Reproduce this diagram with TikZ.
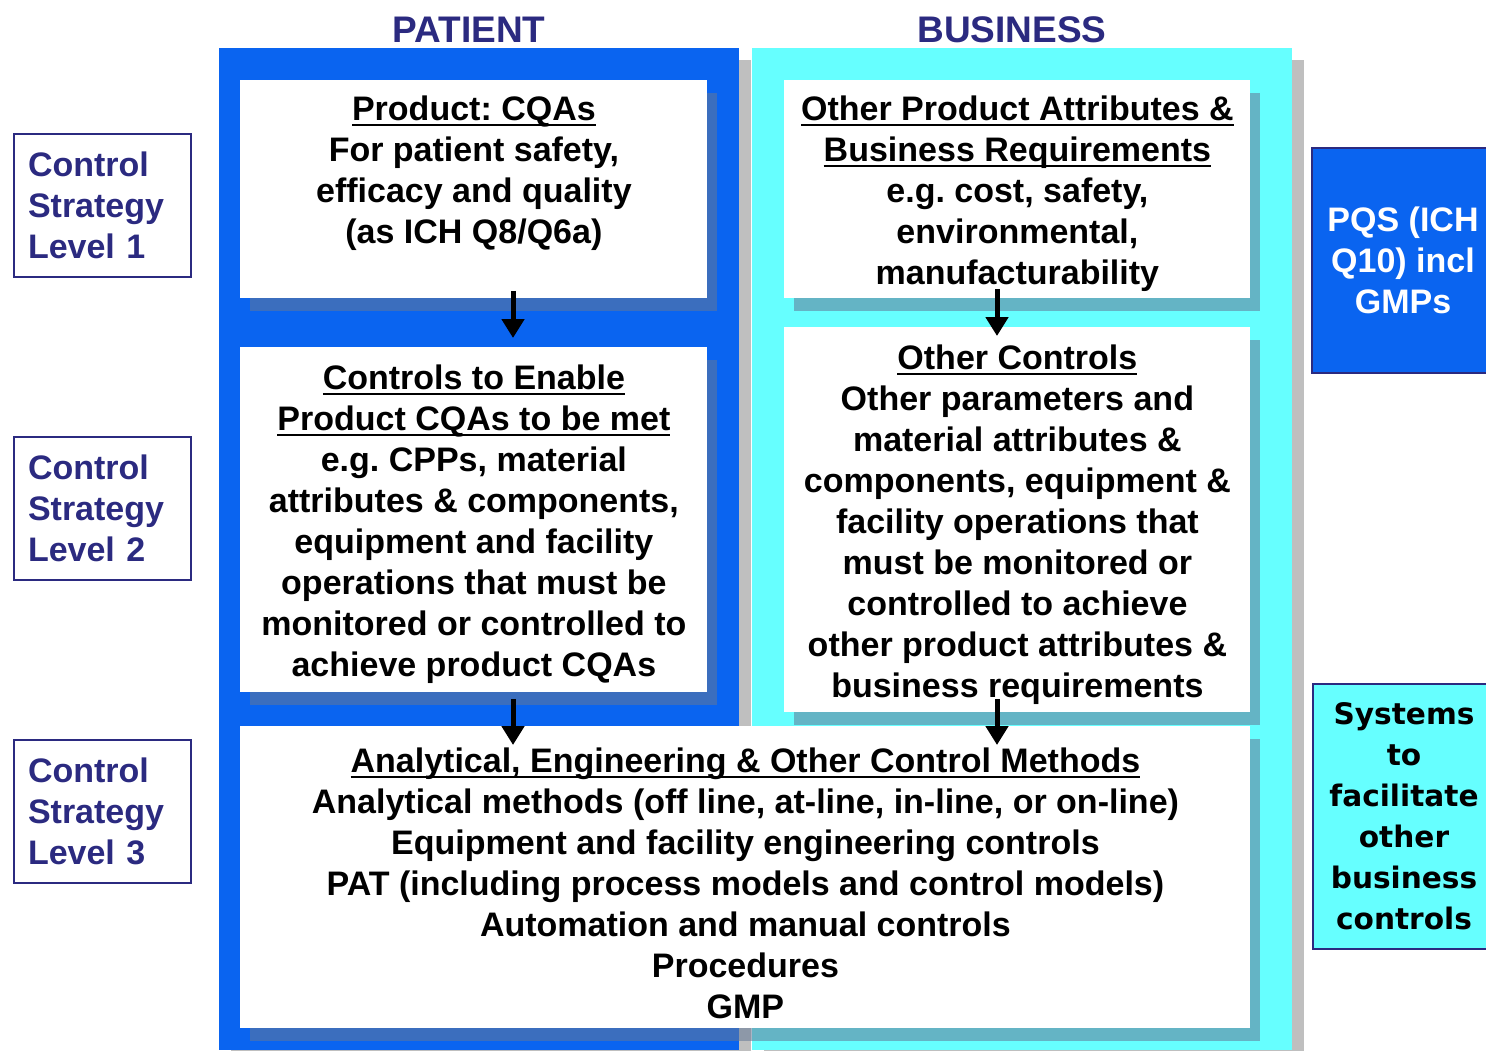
\documentclass[tikz,border=0pt]{standalone}
\usepackage{fontspec}
\setmainfont{Liberation Sans}
\newfontfamily\widesans{DejaVu Sans}
\usetikzlibrary{arrows.meta, positioning, calc, shadows}

\definecolor{patblue}{HTML}{0A64F0}
\definecolor{buscyan}{HTML}{66FFFF}
\definecolor{navy}{HTML}{2B2A80}
\definecolor{shade}{RGB}{100,120,150}

% underlined card title
\newcommand\titleul[1]{\setbox0\hbox{#1}\rlap{\rule[-3.2pt]{\wd0}{1pt}}\box0}

\begin{document}
\frenchspacing
\begin{tikzpicture}[
        x=0.5pt, y=-0.5pt,
        font=\bfseries\fontsize{17}{20.5}\selectfont,
        panel/.style={rectangle, inner sep=0pt, anchor=north west, drop shadow={shadow xshift=6pt, shadow yshift=-6pt, fill=black!25, opacity=1}},
        head/.style={text=navy, font=\bfseries\fontsize{18.5}{22}\selectfont, anchor=base, inner sep=0pt},
        card/.style={rectangle, fill=white, inner sep=0pt, anchor=north west, drop shadow={shadow xshift=5pt, shadow yshift=-6.5pt, fill=shade, opacity=0.55}},
        txt/.style={align=center, anchor=north, inner sep=0pt},
        lvl/.style={rectangle, draw=navy, line width=1pt, text=navy, align=left, text width=74.5pt, inner xsep=7pt, minimum height=71.5pt},
        side/.style={rectangle, draw=navy, line width=1pt, align=center, anchor=north west, inner sep=0pt, minimum width=91pt},
        flow/.style={-{Triangle[width=11pt,length=9.5pt]}, line width=2.5pt}
    ]
        \useasboundingbox (0,0) rectangle (1486,1050);

        % Columns
        \node[panel, fill=patblue, minimum width=260pt, minimum height=501pt] (patient) at (219,48) {};
        \node[panel, fill=buscyan, minimum width=270pt, minimum height=501pt] (business) at (752,48) {};
        \node[head] (pathead) at (469,42) {PATIENT};
        \node[head] (bushead) at (1012,42) {BUSINESS};

        % Cards
        \node[card, minimum width=233.5pt, minimum height=109pt] (cqa) at (240,80) {};
        \node[card, minimum width=233.5pt, minimum height=172.5pt] (ctl) at (240,347) {};
        \node[card, minimum width=233pt, minimum height=109pt] (opa) at (784,80) {};
        \node[card, minimum width=233pt, minimum height=192.5pt] (oth) at (784,327) {};
        \node[card, minimum width=505pt, minimum height=151pt] (acm) at (240,726) {};

        % Card texts
        \node[txt] (cqatxt) at ([yshift=-7.5pt]cqa.north) {\titleul{Product: CQAs}\\For patient safety,\\efficacy and quality\\(as ICH Q8/Q6a)};
        \node[txt] (ctltxt) at ([yshift=-8.5pt]ctl.north) {\titleul{Controls to Enable}\\\titleul{Product CQAs to be met}\\e.g. CPPs, material\\attributes \& components,\\equipment and facility\\operations that must be\\monitored or controlled to\\achieve product CQAs};
        \node[txt] (opatxt) at ([yshift=-7.5pt]opa.north) {\titleul{Other Product Attributes \&}\\\titleul{Business Requirements}\\e.g. cost, safety,\\environmental,\\manufacturability};
        \node[txt] (othtxt) at ([yshift=-8.5pt]oth.north) {\titleul{Other Controls}\\Other parameters and\\material attributes \&\\components, equipment \&\\facility operations that\\must be monitored or\\controlled to achieve\\other product attributes \&\\business requirements};
        \node[txt] (acmtxt) at ([yshift=-10.5pt]acm.north) {\titleul{Analytical, Engineering \& Other Control Methods}\\Analytical methods (off line, at-line, in-line, or on-line)\\Equipment and facility engineering controls\\PAT (including process models and control models)\\Automation and manual controls\\Procedures\\GMP};

        % Levels
        \node[lvl] (lv1) at (102.5,205.5) {Control\\Strategy\\Level 1};
        \node[lvl] (lv2) at (102.5,508.5) {Control\\Strategy\\Level 2};
        \node[lvl] (lv3) at (102.5,811.5) {Control\\Strategy\\Level 3};

        % Systems
        \node[side, fill=patblue, text=white, minimum height=112.5pt] (pqs) at (1311,147) {PQS (ICH\\Q10) incl\\GMPs};
        \node[side, fill=buscyan, minimum height=132.5pt, font=\widesans\bfseries\fontsize{14.8}{20.5}\selectfont] (sys) at (1312,683) {Systems\\to\\facilitate\\other\\business\\controls};

        % Connections
        \coordinate (xL) at (513,0);
        \coordinate (xR) at (997,0);
        \draw[flow] ($(cqa.south -| xL)+(0,-8)$) -- ($(ctl.north -| xL)+(0,-9)$);
        \draw[flow] ($(opa.south -| xR)+(0,-10)$) -- ($(oth.north -| xR)+(0,9)$);
        \draw[flow] ($(ctl.south -| xL)+(0,6)$) -- ($(acm.north -| xL)+(0,19)$);
        \draw[flow] ($(oth.south -| xR)+(0,-14)$) -- ($(acm.north -| xR)+(0,19)$);
    \end{tikzpicture}
\end{document}
